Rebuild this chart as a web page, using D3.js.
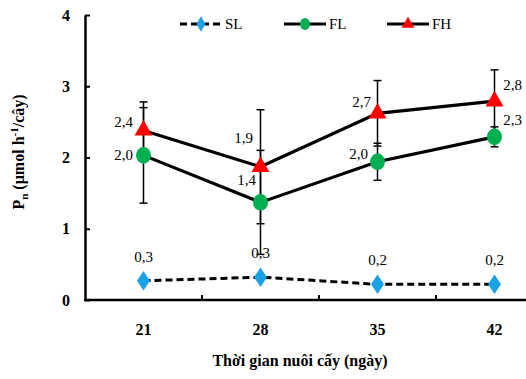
<!DOCTYPE html>
<html><head><meta charset="utf-8">
<script src="https://cdn.jsdelivr.net/npm/d3@7"></script>
<style>
body{margin:0;background:#fff;}
text{font-family:"Liberation Serif","Times New Roman",serif;}
</style></head>
<body><svg id="c" width="526" height="379"></svg>
<script>
const categories = ["21","28","35","42"];
const yTicks = [0,1,2,3,4];
const seriesNames = ["SL","FL","FH"];
const slValues = [0.27,0.32,0.22,0.22];
const flValues = [2.03,1.37,1.94,2.29];
const fhValues = [2.38,1.87,2.62,2.79];
const flErr = [0.67,0.73,0.26,0.14];
const fhErr = [0.40,0.80,0.46,0.44];
const slLabels = ["0,3","0,3","0,2","0,2"];
const flLabels = ["2,0","1,4","2,0","2,3"];
const fhLabels = ["2,4","1,9","2,7","2,8"];
const xTitle = "Thời gian nuôi cấy (ngày)";

const svg = d3.select("#c");
const x = d3.scaleBand().domain(categories).range([85,553]);
const y = d3.scaleLinear().domain([0,4]).range([300,15]);
const cx = c => x(c) + x.bandwidth()/2;

// error bars (drawn first)
const eg = svg.append("g").attr("stroke","#000").attr("stroke-width",1.5);
function errBars(vals, errs){
  categories.forEach((c,i)=>{
    const xx = cx(c), top = y(vals[i]+errs[i]), bot = y(vals[i]-errs[i]);
    eg.append("line").attr("x1",xx).attr("x2",xx).attr("y1",top).attr("y2",bot);
    eg.append("line").attr("x1",xx-4).attr("x2",xx+4).attr("y1",top).attr("y2",top);
    eg.append("line").attr("x1",xx-4).attr("x2",xx+4).attr("y1",bot).attr("y2",bot);
  });
}
errBars(fhValues, fhErr);
errBars(flValues, flErr);

// axes
const ya = d3.axisLeft(y).tickValues(yTicks).tickFormat(d3.format("d")).tickSizeInner(-5).tickSizeOuter(0).tickPadding(15);
const yg = svg.append("g").attr("transform","translate(85,0)").call(ya);
yg.select(".domain").attr("stroke-width",2.5);
yg.selectAll(".tick line").attr("stroke-width",2);
yg.selectAll("text").attr("font-size",16).attr("font-weight","bold").attr("fill","#000");

const xa = d3.axisBottom(x).tickSize(0).tickPadding(24);
const xg = svg.append("g").attr("transform","translate(0,300)").call(xa);
xg.select(".domain").remove();
xg.selectAll("text").attr("font-size",16).attr("font-weight","bold").attr("fill","#000");
svg.append("line").attr("x1",84).attr("x2",526).attr("y1",300).attr("y2",300).attr("stroke","#000").attr("stroke-width",2.5);
categories.slice(1).forEach(c=>{
  svg.append("line").attr("x1",x(c)).attr("x2",x(c)).attr("y1",300).attr("y2",295).attr("stroke","#000").attr("stroke-width",2);
});

// lines
const line = vals => d3.line().x((d,i)=>cx(categories[i])).y(d=>y(d))(vals);
svg.append("path").attr("d",line(slValues)).attr("fill","none").attr("stroke","#000").attr("stroke-width",3).attr("stroke-dasharray","7,4");
svg.append("path").attr("d",line(flValues)).attr("fill","none").attr("stroke","#000").attr("stroke-width",3.2);
svg.append("path").attr("d",line(fhValues)).attr("fill","none").attr("stroke","#000").attr("stroke-width",3.2);

const blue="#1BA1E6", green="#00B050", red="#FF0000";
const diamond = d3.symbol().type(d3.symbolDiamond).size(110);
const tri = d3.symbol().type(d3.symbolTriangle).size(140);

categories.forEach((c,i)=>{
  svg.append("path").attr("d",diamond()).attr("transform",`translate(${cx(c)},${y(slValues[i])}) scale(1.15,1)`).attr("fill",blue);
  svg.append("ellipse").attr("cx",cx(c)).attr("cy",y(flValues[i])).attr("rx",7.5).attr("ry",8.3).attr("fill",green);
  svg.append("path").attr("d",tri()).attr("transform",`translate(${cx(c)},${y(fhValues[i])})`).attr("fill",red);
});

// data labels
const lab = (xx,yy,t)=>svg.append("text").attr("x",xx).attr("y",yy).attr("text-anchor","middle").attr("dominant-baseline","central").attr("font-size",15).attr("fill","#000").text(t);
const fhOff = [[-20,-8],[-17,-29],[-16,-11],[18,-16]];
const flOff = [[-20,0],[-14,-22],[-19,-8],[18,-17]];
categories.forEach((c,i)=>{
  lab(cx(c), y(slValues[i])-24, slLabels[i]);
  lab(cx(c)+fhOff[i][0], y(fhValues[i])+fhOff[i][1], fhLabels[i]);
  lab(cx(c)+flOff[i][0], y(flValues[i])+flOff[i][1], flLabels[i]);
});

// legend
const lgY = 24;
const lgX = [180,284,387];
seriesNames.forEach((n,i)=>{
  const x0 = lgX[i];
  svg.append("line").attr("x1",x0).attr("x2",x0+42).attr("y1",lgY).attr("y2",lgY).attr("stroke","#000").attr("stroke-width",3).attr("stroke-dasharray", i===0?"7,4":null);
  if(i===0) svg.append("path").attr("d",d3.symbol().type(d3.symbolDiamond).size(70)()).attr("transform",`translate(${x0+21},${lgY})`).attr("fill",blue);
  if(i===1) svg.append("ellipse").attr("cx",x0+21).attr("cy",lgY).attr("rx",5).attr("ry",6).attr("fill",green);
  if(i===2) svg.append("path").attr("d",d3.symbol().type(d3.symbolTriangle).size(70)()).attr("transform",`translate(${x0+21},${lgY})`).attr("fill",red);
  svg.append("text").attr("x",x0+45).attr("y",lgY).attr("dominant-baseline","central").attr("font-size",15).attr("fill","#000").text(n);
});

// axis titles
svg.append("text").attr("x",300).attr("y",366).attr("text-anchor","middle").attr("font-size",16).attr("font-weight","bold").attr("fill","#000").text(xTitle);
const yt = svg.append("text").attr("transform","translate(24,152) rotate(-90)").attr("text-anchor","middle").attr("font-size",16).attr("font-weight","bold").attr("fill","#000");
yt.append("tspan").text("P");
yt.append("tspan").attr("font-size",11).attr("dy",4).text("n");
yt.append("tspan").attr("dy",-4).text(" (µmol h");
yt.append("tspan").attr("font-size",11).attr("dy",-6).text("-1");
yt.append("tspan").attr("dy",6).text("/cây)");
</script></body></html>
